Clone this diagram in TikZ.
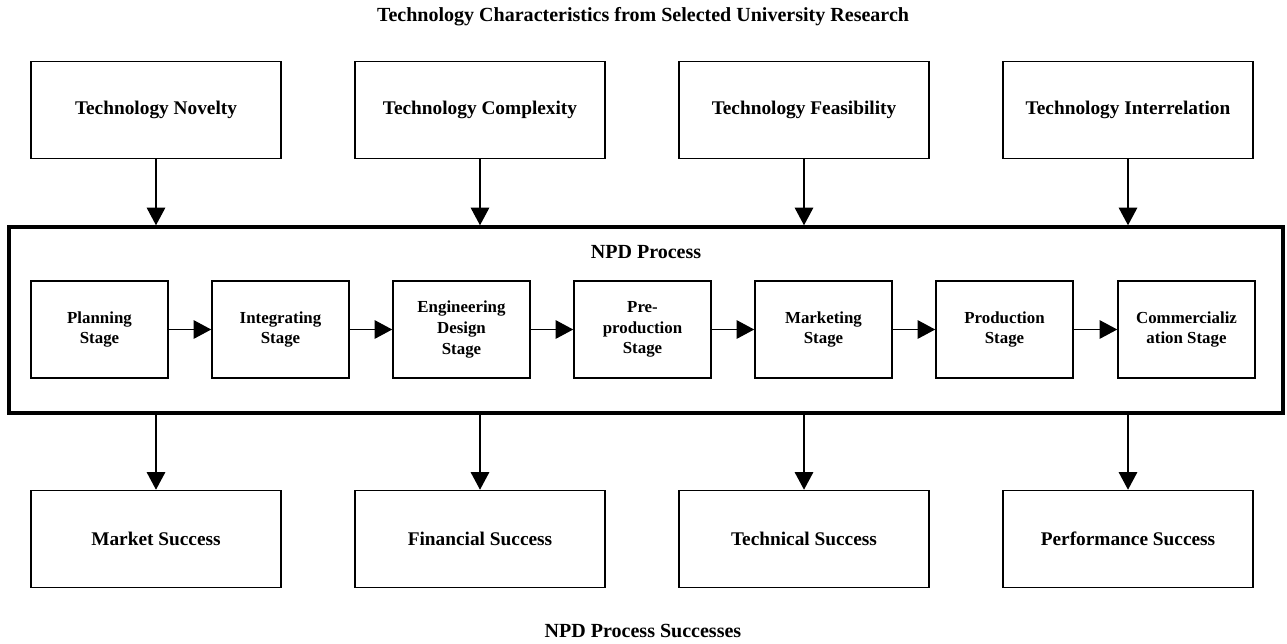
\documentclass[tikz,border=0pt]{standalone}
\usepackage{fontspec}
\setmainfont{Liberation Serif}
\usetikzlibrary{arrows.meta}
\tikzset{
  bigbox/.style={draw, line width=0.9pt, minimum width=5cm, minimum height=1.94cm, align=center, font=\fontsize{11}{13}\selectfont\bfseries, inner sep=0pt},
  stagebox/.style={draw, line width=0.9pt, minimum width=2.74cm, minimum height=1.94cm, align=center, font=\fontsize{9.6}{11.8}\selectfont\bfseries, inner sep=0pt},
  frame/.style={draw, line width=2pt, minimum width=25.48cm, minimum height=3.72cm, inner sep=0pt},
  lbl/.style={font=\fontsize{11.4}{13}\selectfont\bfseries},
  arr/.style={line width=0.8pt, -{Triangle[width=10.5pt,length=10pt]}}
}
\begin{document}
\begin{tikzpicture}[x=0.02cm,y=-0.02cm]
\useasboundingbox (0,0) rectangle (1287,643);
\node[lbl] (title) at (643,17) {Technology Characteristics from Selected University Research};
\node[lbl] (btitle) at (643,631) {NPD Process Successes};

\node[bigbox] (t1) at (156,110) {Technology Novelty};
\node[bigbox] (t2) at (480,110) {Technology Complexity};
\node[bigbox] (t3) at (804,110) {Technology Feasibility};
\node[bigbox] (t4) at (1128,110) {Technology Interrelation};

\node[frame] (npd) at (646,320) {};
\node[lbl] (npdl) at (646,252) {NPD Process};

\node[stagebox] (s1) at (99.5,329.5) {Planning\\Stage};
\node[stagebox] (s2) at (280.5,329.5) {Integrating\\Stage};
\node[stagebox] (s3) at (461.5,329.5) {Engineering\\Design\\Stage};
\node[stagebox] (s4) at (642.5,329.5) {Pre-\\production\\Stage};
\node[stagebox] (s5) at (823.5,329.5) {Marketing\\Stage};
\node[stagebox] (s6) at (1004.5,329.5) {Production\\Stage};
\node[stagebox] (s7) at (1186.5,329.5) {Commercializ\\ation Stage};

\node[bigbox] (b1) at (156,539) {Market Success};
\node[bigbox] (b2) at (480,539) {Financial Success};
\node[bigbox] (b3) at (804,539) {Technical Success};
\node[bigbox] (b4) at (1128,539) {Performance Success};

\foreach \i in {1,2,3,4} {
  \draw[arr] (t\i.south) -- (t\i.south |- npd.north);
  \draw[arr] (b\i.north |- npd.south) -- (b\i.north);
}
\foreach \a/\b in {s1/s2,s2/s3,s3/s4,s4/s5,s5/s6,s6/s7} {
  \draw[arr] (\a.east) -- (\b.west);
}
\end{tikzpicture}
\end{document}
